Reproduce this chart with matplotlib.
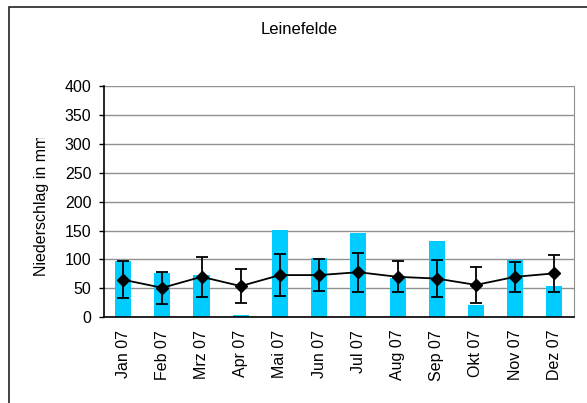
import numpy as np
from matplotlib import pyplot as plt
from matplotlib.patches import Rectangle
from matplotlib.transforms import Bbox

plt.rcParams['font.family'] = ['Liberation Sans', 'DejaVu Sans']

months = ["Jan 07", "Feb 07", "Mrz 07", "Apr 07", "Mai 07", "Jun 07",
          "Jul 07", "Aug 07", "Sep 07", "Okt 07", "Nov 07", "Dez 07"]
# monthly precipitation 2007
precip = [98, 76, 74, 4, 151, 103, 146, 68, 132, 21, 99, 54]
# long-term mean and standard deviation
mean_precip = [65, 51, 70, 54, 73, 73, 78, 70, 67, 56, 70, 76]
std_precip = [32, 28, 35, 29, 37, 27, 34, 27, 32, 31, 26, 32]

W, H = 587, 403
fig = plt.figure(figsize=(W / 100, H / 100), dpi=100)

# outer chart frame (runs off the right and bottom edges)
fig.patches.append(Rectangle((9 / W, -0.05), 1.0, (H - 7) / H + 0.05,
                             transform=fig.transFigure, fill=False,
                             edgecolor='#222222', linewidth=1.2))

ax = fig.add_axes([103.5 / W, (H - 317.3) / H, (574 - 103.5) / W, (317.3 - 86) / H])

x = np.arange(len(months))
ax.bar(x, precip, width=0.41, color='#00CCFF', zorder=2)
ax.errorbar(x, mean_precip, yerr=std_precip, color='black', marker='D',
            markersize=6, linewidth=1.3, elinewidth=1.3, capsize=4,
            capthick=1.3, zorder=3)

ax.set_xlim(-0.5, len(months) - 0.5)
ax.set_ylim(0, 400)
ax.set_yticks(np.arange(0, 401, 50))
ax.yaxis.grid(True, color='#909090', linewidth=1.0, zorder=0)
ax.set_axisbelow(True)

ax.set_xticks(x)
ax.set_xticklabels(months, rotation=90, fontsize=11.5)
ax.tick_params(axis='x', length=0, pad=9)
ax.tick_params(axis='y', labelsize=11.5, length=3.6, width=1, direction='out', pad=5)

ax.spines['left'].set_color('black')
ax.spines['bottom'].set_color('black')
ax.spines['left'].set_linewidth(1.2)
ax.spines['bottom'].set_linewidth(1.2)
ax.spines['top'].set_visible(False)
ax.spines['right'].set_color('#909090')

fig.text(299 / W, 1 - 29 / H, "Leinefelde", ha='center', va='center', fontsize=12)

ylab = fig.text(42 / W, 1 - 276 / H, "Niederschlag in mm", rotation=90,
                ha='center', va='bottom', fontsize=11.5)
# the label runs past the top of its text box and gets cut off there
ylab.set_clip_box(Bbox.from_extents(0, 0, W, H - 138))
ylab.set_clip_on(True)

fig.savefig("out.png", dpi=100)
